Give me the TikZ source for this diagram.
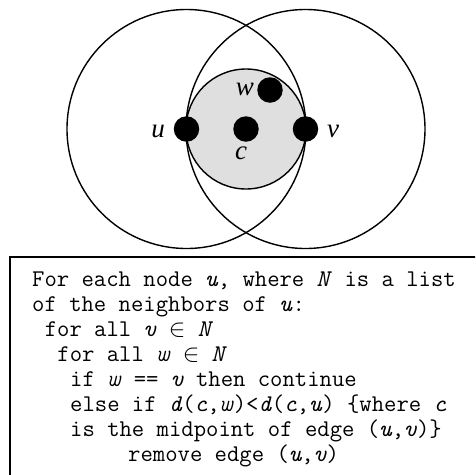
\documentclass[tikz,border=0pt]{standalone}
\usepackage{fontspec}
\setmainfont{Liberation Serif}
\newcommand{\elt}{\ensuremath{\in}}
\begin{document}
\begin{tikzpicture}[x=1pt,y=-1pt,
  ring/.style={draw=black,line width=1.4pt},
  dotnode/.style={circle,fill=black,inner sep=0pt,minimum size=25.5pt},
  lbl/.style={font=\fontsize{27}{27}\selectfont\itshape,inner sep=0pt,anchor=base},
  codeline/.style={font=\fontsize{24}{25}\ttfamily,inner sep=0pt,anchor=base west,text height=15pt,text depth=3pt}]
\useasboundingbox (0,0) rectangle (475,475);
\clip (0,0) rectangle (475,475);
% shaded circle
\fill[gray!25] (246,129) circle[radius=60];
\draw[ring] (246,129) circle[radius=60];
% big circles
\draw[ring] (186.5,129) circle[radius=119.5];
\draw[ring] (305.5,129) circle[radius=119.5];
% dots
\node[dotnode] (u) at (186.5,129) {};
\node[dotnode] (v) at (305.5,129) {};
\node[dotnode] (c) at (246,129) {};
\node[dotnode] (w) at (270,90) {};
% labels
\node[lbl] (lu) at (158,137) {u};
\node[lbl] (lv) at (333,137) {v};
\node[lbl] (lw) at (245,95) {w};
\node[lbl] (lc) at (241,159) {c};
% box
\draw[line width=2pt] (10,520) -- (10,257) -- (520,257);
% code
\node[codeline] (l1) at (32,286) {For each node \textit{u}, where \textit{N} is a list};
\node[codeline] (l2) at (32,311.1) {of the neighbors of \textit{u}:};
\node[codeline] (l3) at (44.6,336.2) {for all \textit{v} \elt{} \textit{N}};
\node[codeline] (l4) at (57.2,361.3) {for all \textit{w} \elt{} \textit{N}};
\node[codeline] (l5) at (70,386.4) {if \textit{w} == \textit{v} then continue};
\node[codeline] (l6) at (70,411.5) {else if \textit{d}(\textit{c},\textit{w})<\textit{d}(\textit{c},\textit{u}) \{where \textit{c}};
\node[codeline] (l7) at (70,436.6) {is the midpoint of edge (\textit{u},\textit{v})\}};
\node[codeline] (l8) at (128,461.7) {remove edge (\textit{u},\textit{v})};
\end{tikzpicture}
\end{document}
